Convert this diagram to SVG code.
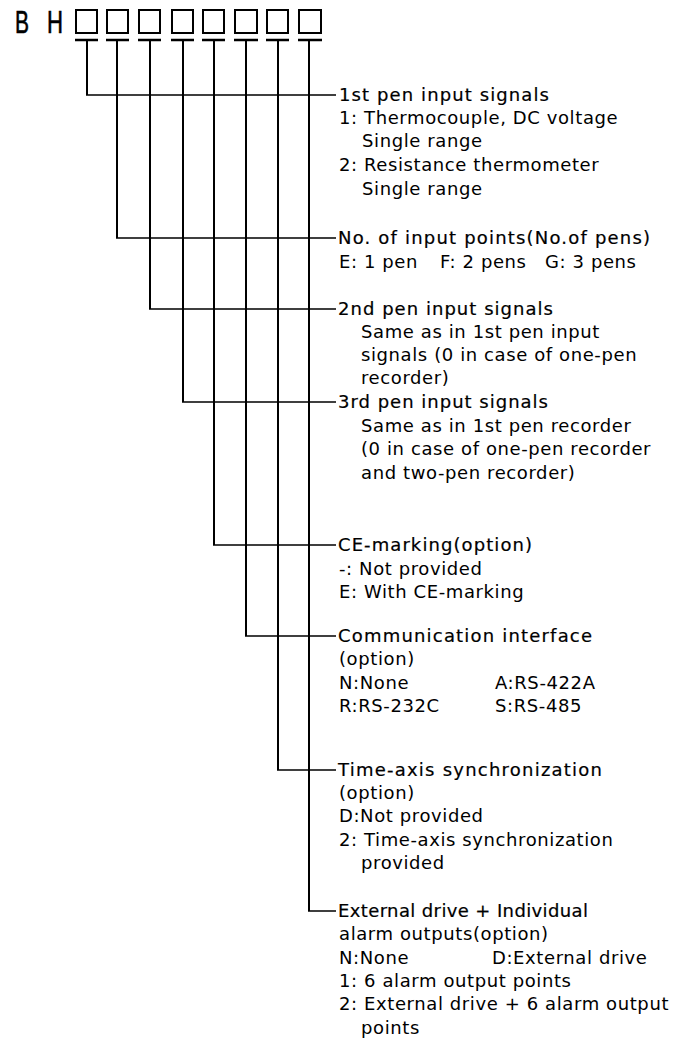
<svg xmlns="http://www.w3.org/2000/svg" width="686" height="1039" viewBox="0 0 686 1039">
<style>
text{font-family:"DejaVu Sans","Liberation Sans",sans-serif;font-size:18px;fill:#000;letter-spacing:0.6px}
.h{stroke:#000;stroke-width:0.2;letter-spacing:0}
.big{font-family:"Liberation Sans",sans-serif;font-size:31px;letter-spacing:0;stroke:#000;stroke-width:0.6}
.box{fill:none;stroke:#000;stroke-width:2}
.bar{stroke:#000;stroke-width:2.5}
.v{fill:none;stroke:#000;stroke-width:2}
.hz{fill:none;stroke:#000;stroke-width:1.5}
</style>
<rect width="686" height="1039" fill="#fff"/>
<g id="code">
<text class="big" x="15" y="33" textLength="14" lengthAdjust="spacingAndGlyphs">B</text>
<text class="big" x="47" y="33" textLength="16" lengthAdjust="spacingAndGlyphs">H</text>
<rect class="box" x="76" y="10" width="21" height="23"/>
<rect class="box" x="107" y="10" width="21" height="23"/>
<rect class="box" x="139" y="10" width="21" height="23"/>
<rect class="box" x="172" y="10" width="21" height="23"/>
<rect class="box" x="203" y="10" width="21" height="23"/>
<rect class="box" x="235" y="10" width="22" height="23"/>
<rect class="box" x="267" y="10" width="21" height="23"/>
<rect class="box" x="299" y="10" width="22" height="23"/>
<path class="bar" d="M75 40H98M106 40H129M138 40H161M171 40H194M202 40H225M234 40H258M266 40H289M298 40H322"/>
</g>
<g id="connectors">
<path class="v" d="M87 40V95M117 40V238M150 40V309M183 40V402M214 40V545M246 40V636M278 40V770M309 40V911"/>
<path class="hz" d="M86 95H336M116 238H336M149 309H336M182 402H336M213 545H336M245 636H336M277 770H336M308 911H336"/>
</g>
<g id="n1">
<text class="h" x="339" y="101" textLength="210" lengthAdjust="spacing">1st pen input signals</text>
<text x="339" y="124">1: Thermocouple, DC voltage</text>
<text x="362" y="147">Single range</text>
<text x="339" y="171">2: Resistance thermometer</text>
<text x="362" y="195">Single range</text>
</g>
<g id="n2">
<text class="h" x="338" y="244" textLength="312" lengthAdjust="spacing">No. of input points(No.of pens)</text>
<text x="339" y="268">E: 1 pen<tspan x="440">F: 2 pens</tspan><tspan x="545">G: 3 pens</tspan></text>
</g>
<g id="n3">
<text class="h" x="338" y="315" textLength="215" lengthAdjust="spacing">2nd pen input signals</text>
<text x="361" y="338">Same as in 1st pen input</text>
<text x="361" y="361">signals (0 in case of one-pen</text>
<text x="361" y="384">recorder)</text>
</g>
<g id="n4">
<text class="h" x="338" y="408" textLength="210" lengthAdjust="spacing">3rd pen input signals</text>
<text x="361" y="432">Same as in 1st pen recorder</text>
<text x="361" y="455">(0 in case of one-pen recorder</text>
<text x="361" y="479">and two-pen recorder)</text>
</g>
<g id="n5">
<text class="h" x="338" y="551" textLength="194" lengthAdjust="spacing">CE-marking(option)</text>
<text x="339" y="575">-: Not provided</text>
<text x="339" y="598">E: With CE-marking</text>
</g>
<g id="n6">
<text class="h" x="338" y="642" textLength="254" lengthAdjust="spacing">Communication interface</text>
<text x="339" y="665">(option)</text>
<text x="339" y="689">N:None<tspan x="495">A:RS-422A</tspan></text>
<text x="339" y="712">R:RS-232C<tspan x="495">S:RS-485</tspan></text>
</g>
<g id="n7">
<text class="h" x="338" y="776" textLength="264" lengthAdjust="spacing">Time-axis synchronization</text>
<text x="339" y="799">(option)</text>
<text x="339" y="822">D:Not provided</text>
<text x="339" y="846">2: Time-axis synchronization</text>
<text x="361" y="869">provided</text>
</g>
<g id="n8">
<text class="h" x="338" y="917" textLength="250" lengthAdjust="spacing">External drive + Individual</text>
<text x="339" y="940">alarm outputs(option)</text>
<text x="339" y="964">N:None<tspan x="492">D:External drive</tspan></text>
<text x="339" y="987">1: 6 alarm output points</text>
<text x="339" y="1010">2: External drive + 6 alarm output</text>
<text x="361" y="1034">points</text>
</g>
</svg>
